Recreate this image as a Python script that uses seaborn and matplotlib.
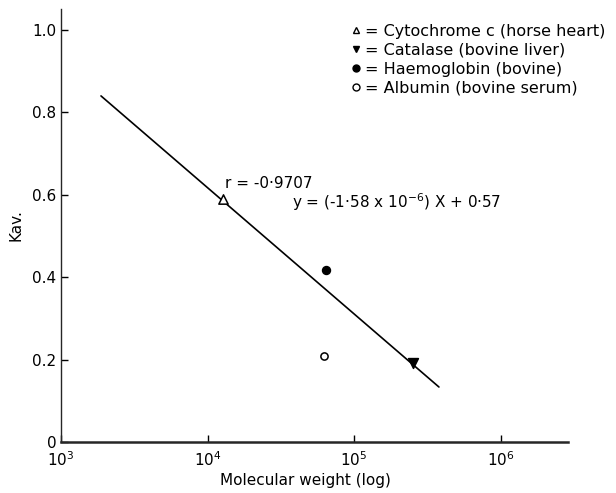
import matplotlib
matplotlib.use("Agg")
import matplotlib.pyplot as plt
import matplotlib.ticker as mticker
from matplotlib.lines import Line2D
import seaborn as sns
import pandas as pd

# Proteins: molecular weight vs Kav
proteins = ["Cytochrome c (horse heart)", "Catalase (bovine liver)",
            "Haemoglobin (bovine)", "Albumin (bovine serum)"]
mol_weight = [12800, 254000, 64700, 62800]
kav = [0.590, 0.192, 0.417, 0.209]

# Fitted line endpoints
fit_x = [1875, 380000]
fit_y = [0.840, 0.1335]

x_ticks = [1e3, 1e4, 1e5, 1e6]
x_tick_labels = [r"$10^{3}$", r"$10^{4}$", r"$10^{5}$", r"$10^{6}$"]
y_ticks = [0, 0.2, 0.4, 0.6, 0.8, 1.0]
y_tick_labels = ["0", "0.2", "0.4", "0.6", "0.8", "1.0"]

sns.set_theme(style="ticks")
plt.rcParams["font.family"] = ["DejaVu Sans"]
plt.rcParams["mathtext.fontset"] = "dejavusans"
plt.rcParams["text.color"] = "black"
plt.rcParams["axes.labelcolor"] = "black"

fig = plt.figure(figsize=(6.16, 4.93), dpi=100)
ax = fig.add_axes([61 / 616, 1 - 442 / 493, (568 - 61) / 616, (442 - 9) / 493])

df = pd.DataFrame({"protein": proteins, "mw": mol_weight, "kav": kav})
markers = {proteins[0]: "^", proteins[1]: "v", proteins[2]: "o", proteins[3]: "o"}
faces = ["white", "black", "black", "white"]
sizes = [45, 50, 32, 27]

sns.lineplot(x=fit_x, y=fit_y, color="black", linewidth=1.2, ax=ax)
for i, row in df.iterrows():
    sns.scatterplot(x=[row.mw], y=[row.kav], marker=markers[row.protein],
                    color=faces[i], edgecolor="black", linewidth=1.1,
                    s=sizes[i], ax=ax, zorder=3)

ax.set_xscale("log")
ax.set_xlim(1e3, 10 ** (3 + (568 - 61) / 146.5))
ax.set_ylim(0, (442 - 9) / 412)
ax.xaxis.set_major_locator(mticker.FixedLocator(x_ticks))
ax.xaxis.set_major_formatter(mticker.FixedFormatter(x_tick_labels))
ax.xaxis.set_minor_locator(mticker.NullLocator())
ax.set_yticks(y_ticks)
ax.set_yticklabels(y_tick_labels)

sns.despine(ax=ax)
ax.spines["bottom"].set_linewidth(1.8)
ax.spines["left"].set_linewidth(1.0)
ax.tick_params(axis="both", direction="in", length=5, width=1.0,
               labelsize=11, colors="black")
ax.tick_params(axis="x", pad=6)

ax.set_xlabel("Molecular weight (log)", fontsize=11)
ax.xaxis.set_label_coords((305 - 61) / 507, -0.072)
ax.set_ylabel("Kav.", fontsize=11, labelpad=6)

fig.text(225 / 616, 1 - 183 / 493, "r = -0·9707", fontsize=11,
         va="center", ha="left")
fig.text(292 / 616, 1 - 202 / 493, r"y = (-1·58 x 10$^{-6}$) X + 0·57",
         fontsize=11, va="center", ha="left")

handles = [
    Line2D([], [], marker="^", linestyle="", markerfacecolor="white", markeredgecolor="black", markersize=5),
    Line2D([], [], marker="v", linestyle="", markerfacecolor="black", markeredgecolor="black", markersize=5),
    Line2D([], [], marker="o", linestyle="", markerfacecolor="black", markeredgecolor="black", markersize=5),
    Line2D([], [], marker="o", linestyle="", markerfacecolor="white", markeredgecolor="black", markersize=5),
]
labels = ["= " + p for p in proteins]
fig.legend(handles, labels, loc="upper left", bbox_to_anchor=(351 / 616, 1 - 24 / 493),
           frameon=False, handlelength=0.6, handletextpad=0.3, labelspacing=0.24,
           borderpad=0, borderaxespad=0, fontsize=11.5)

fig.savefig("out.png", dpi=100)
